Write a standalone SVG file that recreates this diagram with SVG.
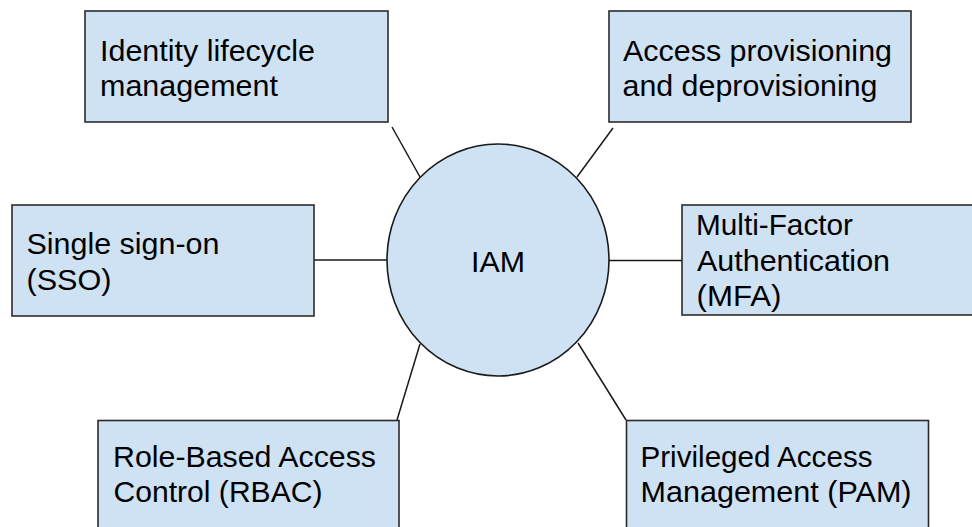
<svg xmlns="http://www.w3.org/2000/svg" width="972" height="527" viewBox="0 0 972 527">
  <style>
    .box { fill: #cfe2f3; stroke: #2b2b2b; stroke-width: 1.6; }
    .hub { fill: #cfe2f3; stroke: #1a1a1a; stroke-width: 1.6; }
    .lbl { font-family: "Liberation Sans", Arial, sans-serif; font-size: 29.5px; fill: #000; }
    .link { stroke: #1a1a1a; stroke-width: 1.5; fill: none; }
  </style>
  <rect x="0" y="0" width="972" height="527" fill="#ffffff"/>

  <!-- spokes from the hub to each capability -->
  <g id="connectors">
    <line class="link" x1="392" y1="127" x2="420" y2="177"/>
    <line class="link" x1="613" y1="128" x2="577" y2="177"/>
    <line class="link" x1="314" y1="260" x2="387" y2="260"/>
    <line class="link" x1="609" y1="260.5" x2="682" y2="260.5"/>
    <line class="link" x1="420" y1="344" x2="397" y2="420"/>
    <line class="link" x1="578" y1="343" x2="626" y2="420"/>
  </g>

  <g id="iam">
    <ellipse class="hub" cx="498" cy="260" rx="111" ry="116"/>
    <text class="lbl" x="471" y="271.5" textLength="54" lengthAdjust="spacingAndGlyphs">IAM</text>
  </g>

  <g id="identity-lifecycle">
    <rect class="box" x="85" y="11" width="303" height="111"/>
    <text class="lbl" x="100" y="60.5" textLength="215" lengthAdjust="spacingAndGlyphs">Identity lifecycle</text>
    <text class="lbl" x="100" y="96" textLength="178" lengthAdjust="spacingAndGlyphs">management</text>
  </g>

  <g id="access-provisioning">
    <rect class="box" x="609" y="11" width="302" height="111"/>
    <text class="lbl" x="623" y="60.5" textLength="269" lengthAdjust="spacingAndGlyphs">Access provisioning</text>
    <text class="lbl" x="622.5" y="96" textLength="255" lengthAdjust="spacingAndGlyphs">and deprovisioning</text>
  </g>

  <g id="sso">
    <rect class="box" x="12" y="205" width="302" height="111"/>
    <text class="lbl" x="26.5" y="253.5" textLength="193" lengthAdjust="spacingAndGlyphs">Single sign-on</text>
    <text class="lbl" x="26.5" y="289.5" textLength="85" lengthAdjust="spacingAndGlyphs">(SSO)</text>
  </g>

  <g id="mfa">
    <rect class="box" x="682" y="205" width="310" height="110"/>
    <text class="lbl" x="696" y="235" textLength="157" lengthAdjust="spacingAndGlyphs">Multi-Factor</text>
    <text class="lbl" x="697" y="270.7" textLength="193" lengthAdjust="spacingAndGlyphs">Authentication</text>
    <text class="lbl" x="696.5" y="306" textLength="85" lengthAdjust="spacingAndGlyphs">(MFA)</text>
  </g>

  <g id="rbac">
    <rect class="box" x="98" y="420.5" width="301" height="120"/>
    <text class="lbl" x="113" y="466.7" textLength="263" lengthAdjust="spacingAndGlyphs">Role-Based Access</text>
    <text class="lbl" x="113.5" y="502.3" textLength="209" lengthAdjust="spacingAndGlyphs">Control (RBAC)</text>
  </g>

  <g id="pam">
    <rect class="box" x="626.5" y="420.5" width="302" height="120"/>
    <text class="lbl" x="640.5" y="466.7" textLength="232" lengthAdjust="spacingAndGlyphs">Privileged Access</text>
    <text class="lbl" x="640.5" y="502" textLength="271" lengthAdjust="spacingAndGlyphs">Management (PAM)</text>
  </g>
</svg>
